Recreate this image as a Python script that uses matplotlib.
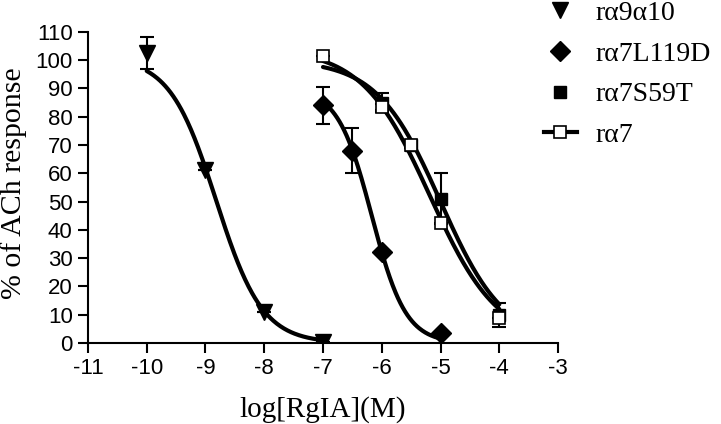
import numpy as np
import matplotlib
matplotlib.use("Agg")
import matplotlib.pyplot as plt
from matplotlib.lines import Line2D

# ---- data ----
labels = ["rα9α10", "rα7L119D", "rα7S59T", "rα7"]

a910_x = [-10, -9, -8, -7]
a910_y = [102.5, 61, 11, 0.5]
a910_e = [5.5, 0, 0, 0]

l119_x = [-7, -6.5, -6, -5]
l119_y = [84, 68, 32, 3.5]
l119_e = [6.5, 8, 0, 0]

s59_x = [-6, -5.5, -5, -4]
s59_y = [85, 70, 51, 10]
s59_e = [3.5, 0, 9, 4.3]

a7_x = [-7, -6, -5.5, -5, -4]
a7_y = [101.5, 83.5, 70, 42.5, 9]
a7_e = [0, 1, 1, 0, 0]

# fitted Hill curves: (top, bottom, logIC50, hill slope, x-range)
fit_a910 = [101, 0, -8.82, 1.1, -10, -7]
fit_l119 = [90, 0, -6.17, 1.5, -7, -5]
fit_s59 = [100, 0, -5.0, 0.8, -7, -4]
fit_a7 = [104, 0, -5.18, 0.75, -7, -4]

xticks = list(range(-11, -2))
yticks = list(range(0, 111, 10))


def hill(p):
    top, bot, c, h, x0, x1 = p
    x = np.linspace(x0, x1, 200)
    return x, bot + (top - bot) / (1 + 10 ** ((x - c) * h))


fig = plt.figure(figsize=(7.21, 4.24), dpi=100)
ax = fig.add_axes([0.122, 0.191, 0.652, 0.734])

lw = 3
for p in (fit_a910, fit_l119, fit_s59, fit_a7):
    x, y = hill(p)
    ax.plot(x, y, color="black", lw=lw, zorder=2, solid_capstyle="round")

ekw = dict(fmt="none", ecolor="black", elinewidth=1.5, capsize=5, capthick=1.5, zorder=3)
ax.errorbar(a910_x, a910_y, yerr=a910_e, **ekw)
ax.errorbar(l119_x, l119_y, yerr=l119_e, **ekw)
ax.errorbar(s59_x, s59_y, yerr=s59_e, **ekw)
ax.errorbar(a7_x, a7_y, yerr=a7_e, **ekw)

ax.plot(a910_x, a910_y, ls="none", marker="v", ms=11, color="black", zorder=4)
ax.plot(l119_x, l119_y, ls="none", marker="D", ms=10, color="black", zorder=4)
ax.plot(s59_x, s59_y, ls="none", marker="s", ms=8, color="black", zorder=4)
ax.plot(a7_x, a7_y, ls="none", marker="s", ms=8, mfc="white", mec="black", mew=1.2, zorder=5)

ax.set_xlim(-11, -3)
ax.set_ylim(0, 110)
ax.set_xticks(xticks)
ax.set_yticks(yticks)
ax.set_xticklabels([str(t) for t in xticks])
ax.set_yticklabels([str(t) for t in yticks])
for s in ("top", "right"):
    ax.spines[s].set_visible(False)
for s in ("left", "bottom"):
    ax.spines[s].set_linewidth(1.5)
ax.tick_params(direction="out", length=7, width=1.5, labelsize=16, pad=4)
for lab in ax.get_xticklabels() + ax.get_yticklabels():
    lab.set_family("Liberation Sans")

serif = "Liberation Serif"
ax.set_xlabel("log[RgIA](M)", fontsize=21, family=serif, labelpad=12)
ax.set_ylabel("% of ACh response", fontsize=21.5, family=serif, va="center")
ax.yaxis.set_label_coords(-0.158, 0.514)

handles = [
    Line2D([], [], ls="none", marker="v", ms=11, color="black"),
    Line2D([], [], ls="none", marker="D", ms=10, color="black"),
    Line2D([], [], ls="none", marker="s", ms=8, color="black"),
    Line2D([], [], ls="-", lw=lw, color="black", marker="s", ms=8,
           mfc="white", mec="black", mew=1.2),
]
leg = fig.legend(handles, labels, loc="upper left", bbox_to_anchor=(0.7386, 1.025),
                 frameon=False, prop={"family": serif, "size": 20},
                 handlelength=1.2, handletextpad=0.67, labelspacing=0.55,
                 borderaxespad=0)

fig.savefig("out.png", dpi=100)
